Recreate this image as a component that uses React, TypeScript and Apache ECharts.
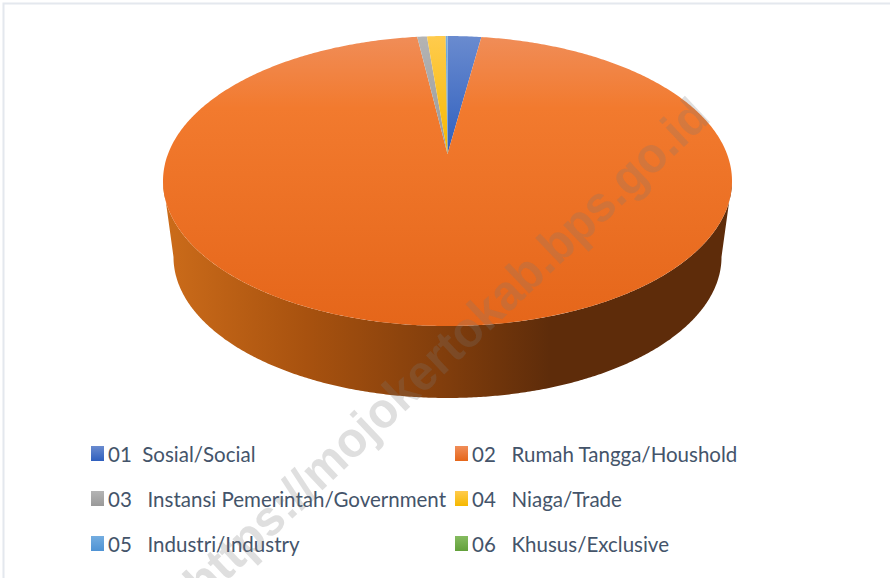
import React, { useEffect, useRef } from "react";
import * as echarts from "echarts";

const categories = [
  "01  Sosial/Social",
  "02   Rumah Tangga/Houshold",
  "03   Instansi Pemerintah/Government",
  "04   Niaga/Trade",
  "05   Industri/Industry",
  "06   Khusus/Exclusive",
];
const values = [1.9, 96.4, 0.55, 1.05, 0.1, 0.0];
const colorStops: [string, string][] = [
  ["#6A8BCF", "#2F5FBE"],
  ["#F08D58", "#E5661A"],
  ["#B4B4B4", "#999999"],
  ["#FFCB4D", "#F5B800"],
  ["#74ADE0", "#4F93D4"],
  ["#85BB60", "#62A03A"],
];
const leftColumn = [categories[0], categories[2], categories[4]];
const rightColumn = [categories[1], categories[3], categories[5]];
const watermark = "https://mojokertokab.bps.go.id";

const TOP = { cx: 447.5, cy: 181, rx: 284.5, ry: 145 };
const BOTTOM = { cx: 447.5, cy: 257, rx: 274, ry: 141 };
const APEX = { x: 447.5, y: 154 };

const rim = (e: typeof TOP, deg: number) => {
  const t = (deg * Math.PI) / 180;
  return [e.cx + e.rx * Math.sin(t), e.cy - e.ry * Math.cos(t)];
};
const arc = (e: typeof TOP, a: number, b: number) => {
  const n = Math.max(2, Math.ceil(Math.abs(b - a) * 2));
  const out: number[][] = [];
  for (let i = 0; i <= n; i++) out.push(rim(e, a + ((b - a) * i) / n));
  return out;
};
const total = values.reduce((s, v) => s + v, 0);
const startOf = (i: number) =>
  (values.slice(0, i).reduce((s, v) => s + v, 0) / total) * 360;

const vGrad = (c: [string, string], mid?: string) => ({
  type: "linear",
  x: 0,
  y: 0,
  x2: 0,
  y2: 1,
  colorStops: mid
    ? [
        { offset: 0, color: c[0] },
        { offset: 0.25, color: mid },
        { offset: 1, color: c[1] },
      ]
    : [
        { offset: 0, color: c[0] },
        { offset: 1, color: c[1] },
      ],
});

const sideFill = {
  type: "linear",
  x: 0,
  y: 0,
  x2: 1,
  y2: 0,
  colorStops: [
    { offset: 0, color: "#CC6C1A" },
    { offset: 0.25, color: "#A8520F" },
    { offset: 0.5, color: "#803D0C" },
    { offset: 0.68, color: "#5E2C0A" },
    { offset: 1, color: "#5E2C0A" },
  ],
};

const makeSeries = (name: string, i: number) => ({
  type: "custom",
  name,
  coordinateSystem: "none",
  silent: true,
  itemStyle: { color: vGrad(colorStops[i]) },
  data: [[values[i]]],
  renderItem: (_p: any, api: any) => {
    const v = api.value(0) as number;
    const a = startOf(i);
    const b = a + (v / total) * 360;
    const children: any[] = [];
    const sa = Math.max(a, 90);
    const sb = Math.min(b, 270);
    if (sb > sa) {
      children.push({
        type: "polygon",
        shape: {
          points: [...arc(TOP, sa, sb), ...arc(BOTTOM, sb, sa)],
        },
        style: { fill: sideFill },
      });
    }
    if (v > 0) {
      const mid = i === 1 ? "#F27A2E" : undefined;
      children.push({
        type: "polygon",
        shape: { points: [[APEX.x, APEX.y], ...arc(TOP, a, b)] },
        style: {
          fill: {
            ...vGrad(colorStops[i], mid),
            global: true,
            x: 0,
            y: TOP.cy - TOP.ry,
            x2: 0,
            y2: i === 1 ? TOP.cy + TOP.ry : APEX.y,
          },
        },
      });
    }
    return { type: "group", children };
  },
});

const legendBase = {
  orient: "vertical",
  top: 441,
  itemWidth: 13,
  itemHeight: 15,
  itemGap: 20,
  icon: "rect",
  selectedMode: false,
  padding: 0,
  textStyle: {
    fontFamily: "Lato",
    fontSize: 20.5,
    color: "#44546A",
    padding: [0, 0, 0, -1],
    lineHeight: 25,
  },
};

export default function App() {
  const ref = useRef<HTMLDivElement>(null);
  useEffect(() => {
    if (!ref.current) return;
    const chart = echarts.init(ref.current, undefined, { renderer: "svg" });
    chart.setOption({
      animation: false,
      backgroundColor: "#fff",
      legend: [
        { ...legendBase, left: 91, data: leftColumn },
        { ...legendBase, left: 455, data: rightColumn },
      ],
      series: categories.map(makeSeries),
      graphic: [
        {
          type: "rect",
          z: 0,
          silent: true,
          shape: { x: 3.5, y: 3.5, width: 1200, height: 1200 },
          style: { fill: "none", stroke: "#E4E8EE", lineWidth: 2 },
        },
        {
          type: "text",
          z: 100,
          silent: true,
          x: 192,
          y: 590,
          scaleX: 0.96,
          rotation: (43.5 * Math.PI) / 180,
          style: {
            text: watermark,
            fontFamily: "Liberation Sans",
            fontWeight: "bold",
            fontSize: 50,
            fill: "rgba(120,120,120,0.24)",
            textAlign: "left",
            textVerticalAlign: "middle",
          },
        },
      ],
    });
    return () => chart.dispose();
  }, []);
  return (
    <div
      ref={ref}
      style={{ position: "absolute", left: 0, top: 0, width: 890, height: 578 }}
    />
  );
}
